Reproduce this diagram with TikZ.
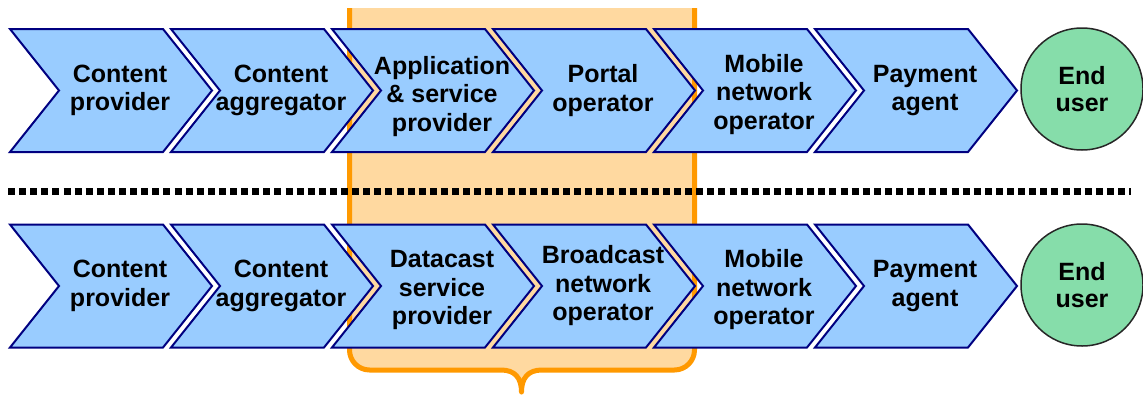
\documentclass[tikz,border=0pt]{standalone}
\usepackage{fontspec}
\setmainfont{Liberation Sans}
\definecolor{chevfill}{RGB}{153,204,255}
\definecolor{chevline}{RGB}{0,0,128}
\definecolor{peach}{RGB}{255,217,160}
\definecolor{braceorange}{RGB}{255,153,0}
\definecolor{userfill}{RGB}{134,221,170}
\tikzset{
  chevshape/.style={fill=chevfill, draw=chevline, line width=2pt, line join=miter},
  chevtext/.style={font=\bfseries\fontsize{25}{28.5}\selectfont, align=center, inner sep=0pt, text=black},
  threelines/.style={yshift=-4pt},
  lowered/.style={yshift=-6pt},
  enduser/.style={circle, minimum size=122pt, inner sep=0pt, fill=userfill, draw=black!85, line width=1.5pt,
    font=\bfseries\fontsize{25}{27.5}\selectfont, align=center, text=black},
  separator/.style={line width=7pt, dash pattern=on 7pt off 4.1pt},
  bracefill/.style={fill=peach},
  braceline/.style={draw=braceorange, line width=5pt, line join=round}
}
% one chevron of the value chain: name, left x, top y, label, extra node style
\newcommand{\chainstep}[5]{%
  \draw[chevshape] (#2,#3) -- ++(153,0) -- ++(49,61.5) -- ++(-49,61.5) -- ++(-153,0) -- ++(49,-61.5) -- cycle;
  \node[chevtext,#5] (#1) at ({#2+110},{#3+61.5}) {#4};
}
\begin{document}
\begin{tikzpicture}[x=1pt,y=-1pt]
\useasboundingbox (0,0) rectangle (1143,394);

% highlighted band with a brace at its foot
\path[bracefill] (349.5,8) -- (349.5,350)
  .. controls (349.5,361) and (358.5,370) .. (369.5,370) -- (501,370)
  .. controls (515,370) and (521.5,378) .. (521.5,392)
  .. controls (521.5,378) and (528,370) .. (542,370) -- (674.5,370)
  .. controls (685.5,370) and (694.5,361) .. (694.5,350) -- (694.5,8) -- cycle;
\path[braceline] (349.5,8) -- (349.5,350)
  .. controls (349.5,361) and (358.5,370) .. (369.5,370) -- (501,370)
  .. controls (515,370) and (521.5,378) .. (521.5,392)
  .. controls (521.5,378) and (528,370) .. (542,370) -- (674.5,370)
  .. controls (685.5,370) and (694.5,361) .. (694.5,350) -- (694.5,8);

% separator between the two chains
\coordinate (sepL) at (8,191.5);
\coordinate (sepR) at (1131,191.5);
\draw[separator] (sepL) -- (sepR);

% upper chain
\chainstep{cpA}{10}{29}{Content\\provider}{}
\chainstep{caA}{171}{29}{Content\\aggregator}{}
\chainstep{aspA}{332}{29}{Application\\\& service\\provider}{lowered}
\chainstep{poA}{493}{29}{Portal\\operator}{}
\chainstep{mnoA}{654}{29}{Mobile\\network\\operator}{threelines}
\chainstep{paA}{815}{29}{Payment\\agent}{}
\node[enduser] (euA) at (1082,89) {End\\user};

% lower chain
\chainstep{cpB}{10}{224.5}{Content\\provider}{}
\chainstep{caB}{171}{224.5}{Content\\aggregator}{}
\chainstep{dspB}{332}{224.5}{Datacast\\service\\provider}{threelines}
\chainstep{bnoB}{493}{224.5}{Broadcast\\network\\operator}{}
\chainstep{mnoB}{654}{224.5}{Mobile\\network\\operator}{threelines}
\chainstep{paB}{815}{224.5}{Payment\\agent}{}
\node[enduser] (euB) at (1082,285) {End\\user};
\end{tikzpicture}
\end{document}
